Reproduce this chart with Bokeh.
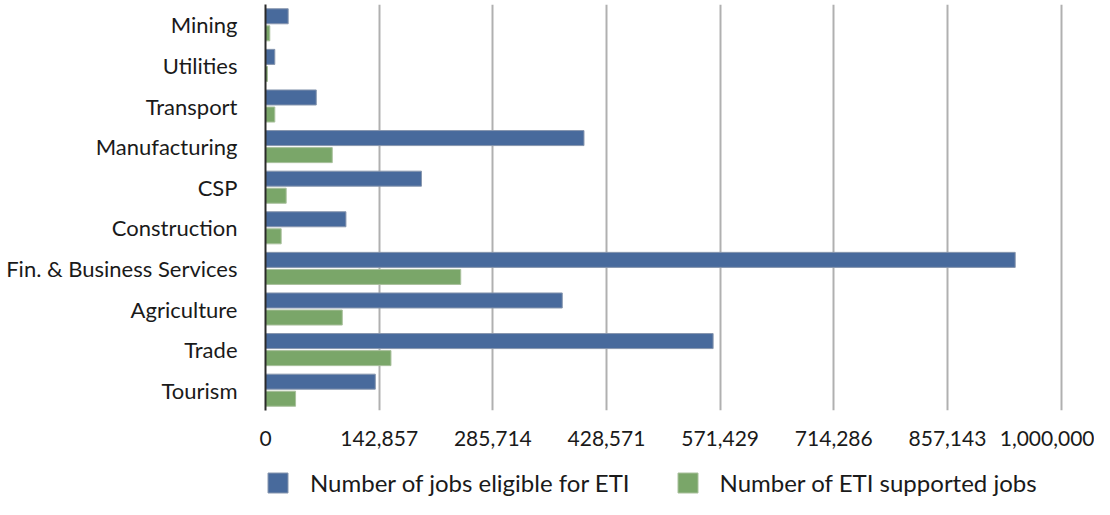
from bokeh.plotting import figure
from bokeh.layouts import column
from bokeh.models import FixedTicker, Legend, LegendItem, FactorRange, Range1d, ColumnDataSource
from bokeh.transform import dodge
from bokeh.embed import file_html
from bokeh.resources import INLINE

categories = ["Mining", "Utilities", "Transport", "Manufacturing", "CSP", "Construction",
              "Fin. & Business Services", "Agriculture", "Trade", "Tourism"]
eligible = [28500, 11700, 63800, 400300, 196000, 101100, 942300, 373000, 562600, 138000]
supported = [5400, 2500, 11700, 83900, 26000, 19700, 245400, 96500, 157700, 37800]
series_names = ["Number of jobs eligible for ETI", "Number of ETI supported jobs"]
tick_values = [0, 142857, 285714, 428571, 571429, 714286, 857143, 1000000]
tick_labels = ["0", "142,857", "285,714", "428,571", "571,429", "714,286", "857,143", "1,000,000"]

BLUE = "#486a9c"
GREEN = "#7aa669"
BLUE_EDGE = "#8796ae"
GREEN_EDGE = "#a9c09c"
FONT = "Lato"

src = ColumnDataSource(dict(cat=categories, eligible=eligible, supported=supported))

p = figure(width=1094, height=460, output_backend="svg", toolbar_location=None,
           y_range=FactorRange(factors=categories[::-1]),
           x_range=Range1d(0, 1003000),
           min_border_left=265, min_border_right=31, min_border_top=4, min_border_bottom=50)

r1 = p.hbar(y=dodge("cat", 0.21, range=p.y_range), right="eligible", left=0, height=0.37,
            source=src, fill_color=BLUE, line_color=BLUE_EDGE, line_width=1)
r2 = p.hbar(y=dodge("cat", -0.21, range=p.y_range), right="supported", left=0, height=0.37,
            source=src, fill_color=GREEN, line_color=GREEN_EDGE, line_width=1)

p.outline_line_color = None
p.ygrid.grid_line_color = None
p.xgrid.grid_line_color = "#b0b0b0"
p.xgrid.grid_line_width = 2

p.xaxis.ticker = FixedTicker(ticks=tick_values)
p.xaxis.major_label_overrides = {v: l for v, l in zip(tick_values, tick_labels)}
p.xaxis.axis_line_color = None
p.xaxis.major_tick_line_color = None
p.xaxis.minor_tick_line_color = None
p.xaxis.major_label_standoff = 14
p.xaxis.major_label_text_font = FONT
p.xaxis.major_label_text_font_size = "21px"
p.xaxis.major_label_text_color = "#1a1a1a"

p.yaxis.axis_line_color = "#2a2a2a"
p.yaxis.axis_line_width = 2
p.yaxis.major_tick_line_color = None
p.yaxis.minor_tick_line_color = None
p.yaxis.major_label_standoff = 22
p.yaxis.major_label_text_font = FONT
p.yaxis.major_label_text_font_size = "22px"
p.yaxis.major_label_text_color = "#1a1a1a"

# legend strip below the chart (proxy glyphs lie outside the visible range)
p2 = figure(width=1094, height=39, output_backend="svg", toolbar_location=None,
            x_range=Range1d(0, 1), y_range=Range1d(0, 1),
            x_axis_location=None, y_axis_location=None,
            min_border_left=0, min_border_right=0, min_border_top=0, min_border_bottom=0)
p2.outline_line_color = None
p2.grid.visible = False
l1 = p2.hbar(y=[-10], right=[1], left=[0], height=1, fill_color=BLUE, line_color=BLUE_EDGE, line_width=1)
l2 = p2.hbar(y=[-10], right=[1], left=[0], height=1, fill_color=GREEN, line_color=GREEN_EDGE, line_width=1)

legend = Legend(items=[LegendItem(label=series_names[0], renderers=[l1]),
                       LegendItem(label=series_names[1], renderers=[l2])],
                orientation="horizontal", location=(0, 2),
                glyph_width=25, glyph_height=25, label_standoff=20, spacing=45,
                padding=0, margin=0, border_line_color=None, background_fill_alpha=0,
                label_text_font=FONT, label_text_font_size="24px", label_text_color="#1a1a1a")
p2.add_layout(legend, "center")

layout = column(p, p2, spacing=0)
open("out.html", "w").write(file_html(layout, INLINE))
